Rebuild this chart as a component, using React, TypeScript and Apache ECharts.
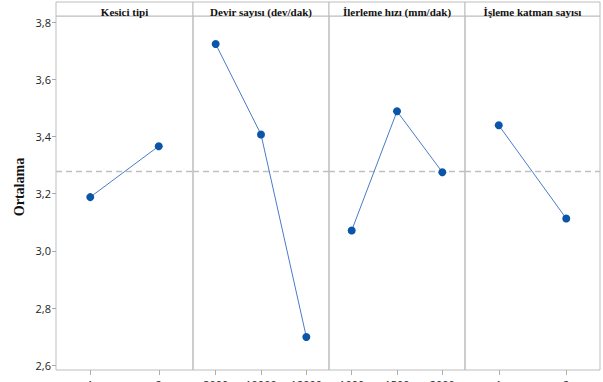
import React, { useEffect, useRef } from "react";
import * as echarts from "echarts";

// Main effects plot: mean response per factor level, one panel per factor.
const factorTitles = [
  "Kesici tipi",
  "Devir sayısı (dev/dak)",
  "İlerleme hızı (mm/dak)",
  "İşleme katman sayısı",
];
const cutterLevels = ["1", "2"];
const speedLevels = ["8000", "10000", "12000"];
const feedLevels = ["1000", "1500", "2000"];
const layerLevels = ["1", "2"];

const cutterMeans = [3.188, 3.366];
const speedMeans = [3.723, 3.407, 2.699];
const feedMeans = [3.071, 3.488, 3.275];
const layerMeans = [3.439, 3.113];

const grandMean = 3.277;
const yTicks = [2.6, 2.8, 3.0, 3.2, 3.4, 3.6, 3.8];
const yName = "Ortalama";

const levelSets = [cutterLevels, speedLevels, feedLevels, layerLevels];
const meanSets = [cutterMeans, speedMeans, feedMeans, layerMeans];

// panel layout (px)
const W = 603;
const H = 382;
const panelEdges = [56, 193, 329, 465, 600];
const frameTop = 2;
const headerBottom = 16;
const plotBottom = 370;
const yMin = 2.5836;
const yMax = 3.821;

const frameColor = "#bdbdbd";
const serif = "'Liberation Serif', 'Times New Roman', serif";
const sans = "'Open Sans', 'Noto Sans', sans-serif";

const fmt = (v: number) => v.toFixed(1).replace(".", ",");

export default function App() {
  const ref = useRef<HTMLDivElement>(null);

  useEffect(() => {
    if (!ref.current) return;
    const chart = echarts.init(ref.current, undefined, { renderer: "svg" });

    const grids = meanSets.map((_, i) => ({
      left: panelEdges[i],
      top: headerBottom,
      width: panelEdges[i + 1] - panelEdges[i],
      height: plotBottom - headerBottom,
      outerBoundsMode: "none",
      containLabel: false,
      show: true,
      borderColor: frameColor,
      borderWidth: 1,
      backgroundColor: "transparent",
    }));

    const xAxes = levelSets.map((levels, i) => ({
      type: "category",
      gridIndex: i,
      data: levels,
      boundaryGap: true,
      axisLine: { show: false },
      axisTick: {
        show: true,
        alignWithLabel: true,
        length: 5,
        lineStyle: { color: "#b0b0b0" },
      },
      axisLabel: {
        margin: 9,
        fontSize: 11,
        fontFamily: sans,
        color: "#222",
      },
      splitLine: { show: false },
    }));

    const yAxes = meanSets.map((_, i) => ({
      type: "value",
      gridIndex: i,
      min: yMin,
      max: yMax,
      axisLine: { show: false },
      axisTick: {
        show: i === 0,
        length: 4,
        customValues: yTicks,
        lineStyle: { color: "#a8a8a8" },
      },
      axisLabel: {
        show: i === 0,
        customValues: yTicks,
        formatter: (v: number) => fmt(v),
        fontSize: 11,
        fontFamily: sans,
        color: "#222",
        margin: 5,
      },
      splitLine: { show: false },
    }));

    const series = meanSets.map((means, i) => ({
      type: "line",
      xAxisIndex: i,
      yAxisIndex: i,
      data: means,
      symbol: "circle",
      symbolSize: 8,
      itemStyle: { color: "#0a55a8" },
      lineStyle: { color: "#4a7cc6", width: 1 },
      z: 3,
      markLine: {
        silent: true,
        symbol: ["none", "none"],
        label: { show: false },
        lineStyle: { type: [6, 4], color: "#c0c0c0", width: 1.3 },
        data: [{ yAxis: grandMean }],
        z: 1,
      },
    }));

    const headers: any[] = factorTitles.map((t, i) => ({
      type: "group",
      children: [
        {
          type: "rect",
          shape: {
            x: panelEdges[i],
            y: frameTop,
            width: panelEdges[i + 1] - panelEdges[i],
            height: headerBottom - frameTop,
          },
          style: { fill: "#fff", stroke: frameColor, lineWidth: 1 },
        },
        {
          type: "text",
          x: (panelEdges[i] + panelEdges[i + 1]) / 2,
          y: 12,
          style: {
            text: t,
            fontFamily: serif,
            fontWeight: "bold",
            fontSize: 11,
            fill: "#111",
            align: "center",
            verticalAlign: "middle",
          },
        },
      ],
    }));

    chart.setOption({
      animation: false,
      backgroundColor: "#fff",
      grid: grids,
      xAxis: xAxes,
      yAxis: yAxes,
      series,
      graphic: [
        ...headers,
        {
          type: "text",
          x: 19,
          y: 187,
          rotation: Math.PI / 2,
          style: {
            text: yName,
            fontFamily: serif,
            fontWeight: "bold",
            fontSize: 14,
            fill: "#111",
            align: "center",
            verticalAlign: "middle",
          },
        },
      ],
    });

    return () => chart.dispose();
  }, []);

  return (
    <div
      ref={ref}
      style={{ position: "fixed", left: 0, top: 0, width: W, height: H }}
    />
  );
}
